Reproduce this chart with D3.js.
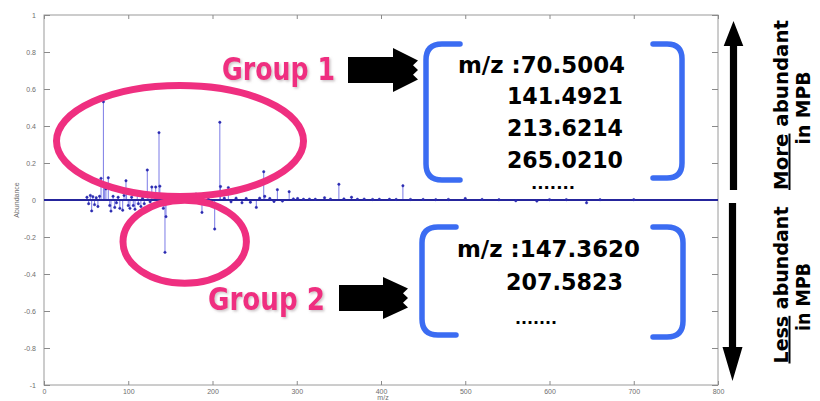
<!DOCTYPE html>
<html>
<head>
<meta charset="utf-8">
<script src="https://cdn.jsdelivr.net/npm/d3@7"></script>
<style>
  html, body { margin: 0; padding: 0; background: #fff; }
  svg { display: block; }
</style>
</head>
<body>
<svg id="chart" width="820" height="401"></svg>
<script>
// ---------------- data ----------------
const mzValues = [
  51, 53, 55, 56.6, 58, 60, 62, 64, 66, 67.7, 70.5, 72, 73.5, 76.3, 78, 79.5, 82, 84, 86, 88,
  90, 93.4, 95, 97.3, 98, 100, 102, 104, 106, 108, 110.7, 112, 115, 117, 119, 122.6, 123.5, 126,
  128, 132.6, 136.5, 137.5, 140, 141.6, 143.6, 144.8, 150, 160, 170, 180.4, 187.5, 195, 202.6,
  208.7, 209.5, 214, 218.8, 222, 228, 235, 240, 245, 252, 256, 260.8, 262, 268, 273, 277, 283,
  291, 296, 301, 308, 315, 322, 333, 340, 350, 356, 365, 372, 380, 390, 398, 410, 418, 426,
  435, 450, 465, 480, 500, 520, 540, 560, 585, 600, 620, 644, 660, 700
];
const abundanceValues = [
  0.015, -0.02, 0.025, -0.059, 0.018, -0.025, 0.012, -0.035, 0.02, 0.117, 0.531, 0.08, 0.06, 0.12, -0.03, -0.06, 0.02, -0.04, -0.015, 0.015,
  -0.045, -0.055, 0.025, 0.104, 0.04, -0.03, -0.045, 0.015, -0.03, -0.05, 0.03, -0.02, -0.035, 0.01, -0.02, 0.162, 0.03, -0.01,
  0.07, 0.07, 0.364, 0.075, -0.005, -0.045, -0.283, -0.09, 0.005, -0.005, 0.004, 0.032, -0.067, 0.004, -0.157,
  0.42, 0.073, 0.01, 0.067, -0.01, 0.01, -0.015, 0.008, -0.012, -0.04, 0.01, 0.153, 0.02, 0.008, -0.008, 0.056, -0.006,
  0.045, 0.006, 0.008, 0.004, 0.005, 0.004, 0.012, 0.005, 0.085, 0.006, 0.015, 0.004, 0.005, 0.003, 0.004, 0.004, 0.003, 0.077,
  0.003, 0.003, 0.002, 0.003, 0.008, 0.003, 0.002, -0.004, -0.006, 0.002, 0.002, -0.015, 0.002, 0.002
];
const xTicks = [0, 100, 200, 300, 400, 500, 600, 700, 800];
const yTicks = [-1, -0.8, -0.6, -0.4, -0.2, 0, 0.2, 0.4, 0.6, 0.8, 1];
const xLabel = "m/z";
const yLabel = "Abundance";
const group1Label = "Group 1";
const group1Lines = ["m/z :70.5004", "141.4921", "213.6214", "265.0210"];
const group2Label = "Group 2";
const group2Lines = ["m/z :147.3620", "207.5823"];
const moreDots = ".......";

// ---------------- layout ----------------
const svg = d3.select("#chart");
const L = 44, R = 718, T = 15, B = 385;
const x = d3.scaleLinear().domain([0, 800]).range([L, R]);
const y = d3.scaleLinear().domain([-1, 1]).range([B, T]);
const data = mzValues.map((m, i) => ({ mz: m, v: abundanceValues[i] }));

// frame
svg.append("rect").attr("x", L).attr("y", T).attr("width", R - L).attr("height", B - T)
  .attr("fill", "#fff").attr("stroke", "#9a9a9a").attr("stroke-width", 1);

const fmt = d => String(+(+d).toFixed(1));
const axisStyle = g => {
  g.select(".domain").remove();
  g.selectAll(".tick line").attr("stroke", "#8a8a8a");
  g.selectAll(".tick text").attr("fill", "#6e6e6e")
    .style("font-family", "'Liberation Sans', Arial, sans-serif").style("font-size", "7px");
};
svg.append("g").attr("transform", `translate(${L},0)`)
  .call(d3.axisLeft(y).tickValues(yTicks).tickSizeInner(-6).tickSizeOuter(0).tickPadding(8).tickFormat(fmt))
  .call(axisStyle);
svg.append("g").attr("transform", `translate(${R},0)`)
  .call(d3.axisRight(y).tickValues(yTicks).tickSizeInner(-6).tickSizeOuter(0).tickFormat(""))
  .call(axisStyle);
svg.append("g").attr("transform", `translate(0,${B})`)
  .call(d3.axisBottom(x).tickValues(xTicks).tickSizeInner(-4).tickSizeOuter(0).tickPadding(4).tickFormat(fmt))
  .call(axisStyle);
svg.append("g").attr("transform", `translate(0,${T})`)
  .call(d3.axisTop(x).tickValues(xTicks).tickSizeInner(-4).tickSizeOuter(0).tickFormat(""))
  .call(axisStyle);

// axis labels
svg.append("text").attr("x", (L + R) / 2 + 2).attr("y", 400).attr("text-anchor", "middle")
  .attr("fill", "#6e6e6e").style("font-family", "'Liberation Sans', Arial, sans-serif").style("font-size", "7px")
  .text(xLabel);
svg.append("text").attr("transform", `translate(19,${y(0)}) rotate(-90)`).attr("text-anchor", "middle")
  .attr("fill", "#6e6e6e").style("font-family", "'Liberation Sans', Arial, sans-serif").style("font-size", "7px")
  .text(yLabel);

// stems
const plot = svg.append("g");
plot.selectAll("line.stem").data(data).join("line").attr("class", "stem")
  .attr("x1", d => x(d.mz)).attr("x2", d => x(d.mz))
  .attr("y1", y(0)).attr("y2", d => y(d.v))
  .attr("stroke", "#7b7be6").attr("stroke-width", 1);
// baseline
plot.append("line").attr("x1", x(0)).attr("x2", x(800)).attr("y1", y(0)).attr("y2", y(0))
  .attr("stroke", "#25259c").attr("stroke-width", 2);
// markers
plot.selectAll("circle.mk").data(data).join("circle").attr("class", "mk")
  .attr("cx", d => x(d.mz)).attr("cy", d => y(d.v)).attr("r", 1.2)
  .attr("fill", "#2a2ab0").attr("stroke", "#2a2ab0").attr("stroke-width", 0.5);

// ---------------- annotations ----------------
const defs = svg.append("defs");
defs.append("filter").attr("id", "shadow").attr("x", "-10%").attr("y", "-10%").attr("width", "130%").attr("height", "140%")
  .append("feDropShadow").attr("dx", 1.5).attr("dy", 1.5).attr("stdDeviation", 0.8)
  .attr("flood-color", "#9a8a90").attr("flood-opacity", 0.5);

const pink = "#ef2f80";
// ellipses
svg.append("ellipse").attr("cx", 180).attr("cy", 141).attr("rx", 123.5).attr("ry", 55.5)
  .attr("fill", "none").attr("stroke", pink).attr("stroke-width", 7);
svg.append("ellipse").attr("cx", 184.7).attr("cy", 241.7).attr("rx", 61.7).attr("ry", 41.5)
  .attr("fill", "none").attr("stroke", pink).attr("stroke-width", 7);

const boldFont = "'DejaVu Sans', Verdana, sans-serif";
// group labels
svg.append("text").attr("x", 222).attr("y", 80).attr("textLength", 113).attr("lengthAdjust", "spacingAndGlyphs")
  .attr("fill", pink).attr("filter", "url(#shadow)")
  .style("font-family", boldFont).style("font-weight", "bold").style("font-size", "32px").text(group1Label);
svg.append("text").attr("x", 208).attr("y", 310).attr("textLength", 117).attr("lengthAdjust", "spacingAndGlyphs")
  .attr("fill", pink).attr("filter", "url(#shadow)")
  .style("font-family", boldFont).style("font-weight", "bold").style("font-size", "32px").text(group2Label);

// block arrows with jagged tip
function blockArrow(bx0, bx1, tx, cy, bh, hh) {
  const n = 5;
  const pts = [[bx0, cy - bh], [bx1, cy - bh], [bx1, cy - hh], [tx, cy - 9.5],
    [tx - n, cy - 4.75], [tx, cy], [tx - n, cy + 4.75], [tx, cy + 9.5],
    [bx1, cy + hh], [bx1, cy + bh], [bx0, cy + bh]];
  svg.append("polygon").attr("points", pts.map(p => p.join(",")).join(" ")).attr("fill", "#000");
}
blockArrow(348, 393, 418, 70, 13, 22);
blockArrow(339, 383, 408, 298, 13, 21);

// brackets
const blue = "#3b6cf2";
function bracket(xEnd, xv, y0, y1, r) {
  const dir = xv < xEnd ? 1 : -1;
  const p = d3.path();
  p.moveTo(xEnd, y0);
  p.lineTo(xv + dir * r, y0);
  p.quadraticCurveTo(xv, y0, xv, y0 + r);
  p.lineTo(xv, y1 - r);
  p.quadraticCurveTo(xv, y1, xv + dir * r, y1);
  p.lineTo(xEnd, y1);
  svg.append("path").attr("d", p.toString()).attr("fill", "none").attr("stroke", blue)
    .attr("stroke-width", 5.5).attr("stroke-linecap", "round").attr("stroke-linejoin", "round");
}
bracket(460, 426, 44, 180, 16);
bracket(653, 682, 44, 178, 15);
bracket(456, 422, 227, 335, 16);
bracket(653, 683, 227, 337, 16);

// bracket texts
function listText(lines, specs, size) {
  lines.forEach((t, i) => {
    const s = specs[i];
    svg.append("text").attr("x", s[0]).attr("y", s[1]).attr("textLength", s[2]).attr("lengthAdjust", "spacingAndGlyphs")
      .attr("fill", "#000").style("font-family", boldFont).style("font-weight", "bold").style("font-size", size + "px").text(t);
  });
}
listText(group1Lines, [[458, 73, 167], [507, 104, 116], [507, 136, 116], [507, 168, 116]], 23);
listText([moreDots], [[531, 189, 44]], 15);
listText(group2Lines, [[457, 257, 183], [506, 290, 117]], 23);
listText([moreDots], [[515, 324, 42]], 15);

// vertical arrows on right
function vArrow(cx, yTail, yHeadBase, yTip, sw, hw) {
  const pts = [[cx - sw, yTail], [cx + sw, yTail], [cx + sw, yHeadBase], [cx + hw, yHeadBase],
    [cx, yTip], [cx - hw, yHeadBase], [cx - sw, yHeadBase]];
  svg.append("polygon").attr("points", pts.map(p => p.join(",")).join(" ")).attr("fill", "#000");
}
vArrow(733.5, 190, 46, 21, 3.6, 9.8);
vArrow(732.5, 203, 347, 381, 3.6, 10);

function sideText(cxBase, cy, parts, len) {
  const t = svg.append("text").attr("transform", `translate(${cxBase},${cy}) rotate(-90)`)
    .attr("text-anchor", "middle").attr("fill", "#000")
    .style("font-family", boldFont).style("font-weight", "bold").style("font-size", "20px");
  if (len) t.attr("textLength", len).attr("lengthAdjust", "spacingAndGlyphs");
  parts.forEach(p => {
    const ts = t.append("tspan").text(p.t);
    if (p.u) ts.style("text-decoration", "underline");
  });
}
sideText(787.5, 105, [{ t: "More", u: true }, { t: " abundant" }], 170);
sideText(810, 108, [{ t: "in MPB" }], 73);
sideText(787.5, 285, [{ t: "Less", u: true }, { t: " abundant" }], 157);
sideText(810, 297, [{ t: "in MPB" }], 68);
</script>
</body>
</html>
